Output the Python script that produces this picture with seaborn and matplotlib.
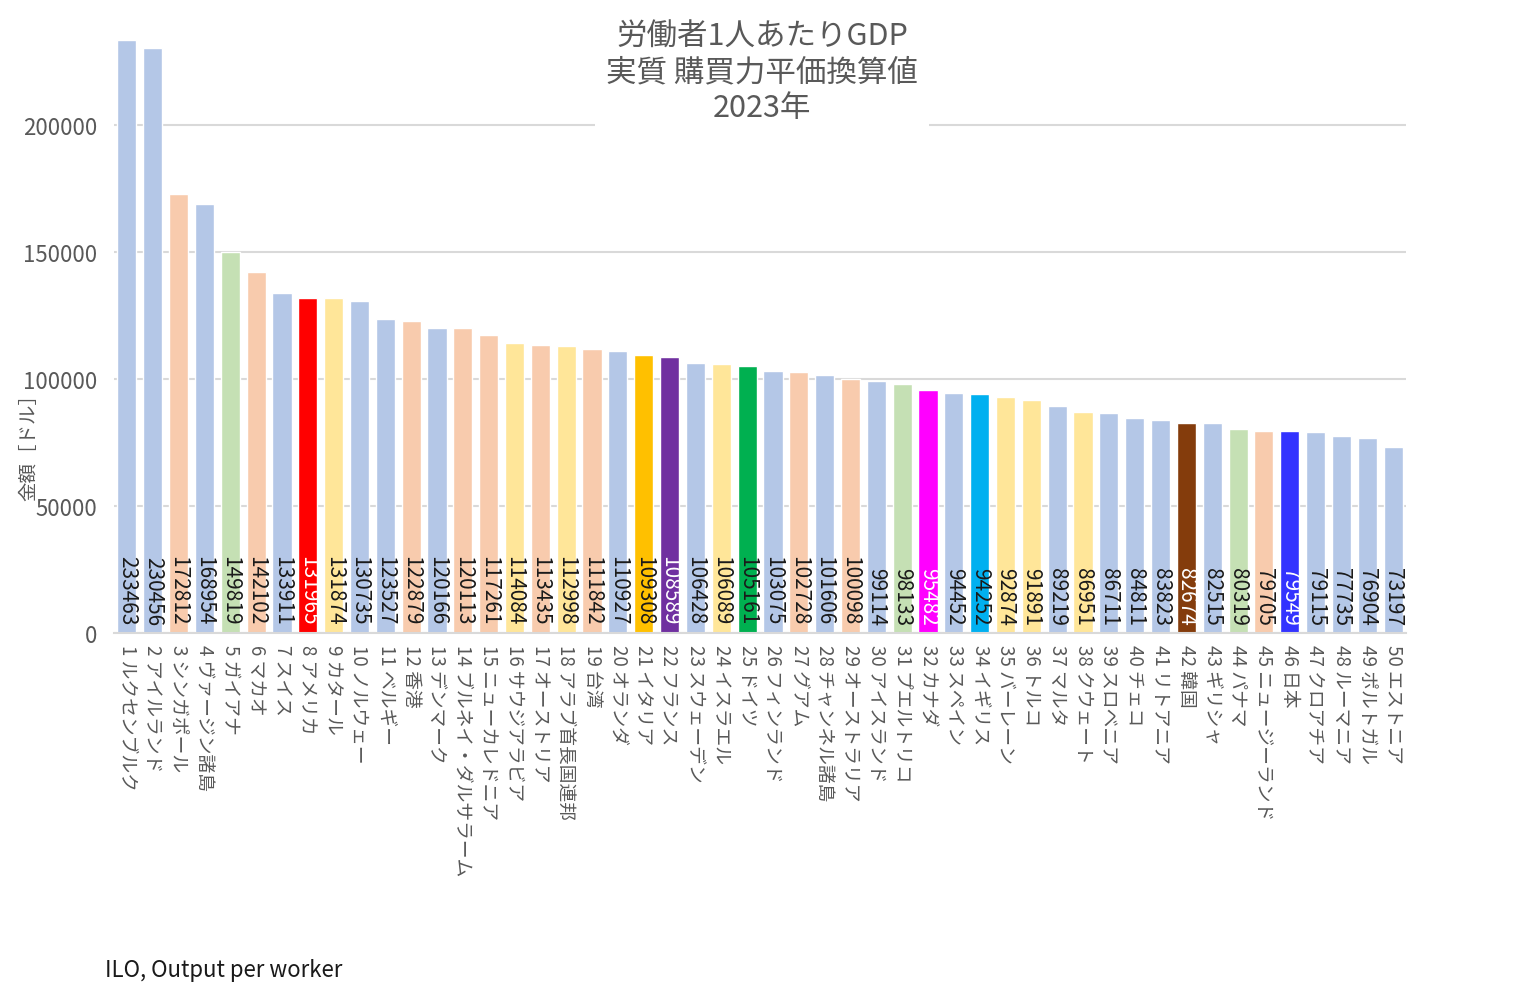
import matplotlib
matplotlib.use("Agg")
import matplotlib.pyplot as plt
import seaborn as sns
import pandas as pd

countries = ["ルクセンブルク", "アイルランド", "シンガポール", "ヴァージン諸島", "ガイアナ",
             "マカオ", "スイス", "アメリカ", "カタール", "ノルウェー",
             "ベルギー", "香港", "デンマーク", "ブルネイ・ダルサラーム", "ニューカレドニア",
             "サウジアラビア", "オーストリア", "アラブ首長国連邦", "台湾", "オランダ",
             "イタリア", "フランス", "スウェーデン", "イスラエル", "ドイツ",
             "フィンランド", "グアム", "チャンネル諸島", "オーストラリア", "アイスランド",
             "プエルトリコ", "カナダ", "スペイン", "イギリス", "バーレーン",
             "トルコ", "マルタ", "クウェート", "スロベニア", "チェコ",
             "リトアニア", "韓国", "ギリシャ", "パナマ", "ニュージーランド",
             "日本", "クロアチア", "ルーマニア", "ポルトガル", "エストニア"]
values = [233463, 230456, 172812, 168954, 149819, 142102, 133911, 131965, 131874, 130735,
          123527, 122879, 120166, 120113, 117261, 114084, 113435, 112998, 111842, 110927,
          109308, 108589, 106428, 106089, 105161, 103075, 102728, 101606, 100098, 99114,
          98133, 95482, 94452, 94252, 92874, 91891, 89219, 86951, 86711, 84811,
          83823, 82674, 82515, 80319, 79705, 79549, 79115, 77735, 76904, 73197]
# colour group per bar
groups = ["B", "B", "P", "B", "G", "P", "B", "US", "Y", "B",
          "B", "P", "B", "P", "P", "Y", "P", "Y", "P", "B",
          "IT", "FR", "B", "Y", "DE", "B", "P", "B", "P", "B",
          "G", "CA", "B", "UK", "Y", "Y", "B", "Y", "B", "B",
          "B", "KR", "B", "G", "P", "JP", "B", "B", "B", "B"]

group_colors = {"B": "#B4C7E7", "P": "#F8CBAD", "G": "#C5E0B4", "Y": "#FFE699",
                "US": "#FF0000", "IT": "#FFC000", "FR": "#7030A0", "DE": "#00B050",
                "CA": "#FF00FF", "UK": "#00B0F0", "KR": "#843C0C", "JP": "#3333FF"}
white_text = {"US", "FR", "CA", "KR", "JP"}

labels = [f"{i + 1} {c}" for i, c in enumerate(countries)]
df = pd.DataFrame({"label": labels, "value": values, "group": groups})

sns.set_theme(style="white")
plt.rcParams["font.family"] = ["Noto Sans CJK JP", "DejaVu Sans"]

fig = plt.figure(figsize=(15.24, 9.95), dpi=100)
ax = fig.add_axes([0.0748, 0.3628, 0.8478, 0.6127])

palette = [group_colors[g] for g in groups]
sns.barplot(data=df, x="label", y="value", hue="label", palette=palette,
            legend=False, width=0.74, ax=ax, saturation=1, zorder=2)

ax.set_xlim(-0.5, len(values) - 0.5)
ax.set_ylim(0, 240000)
ax.set_yticks([0, 50000, 100000, 150000, 200000])
ax.set_yticklabels(["0", "50000", "100000", "150000", "200000"])
ax.yaxis.grid(True, color="#D9D9D9", linewidth=1.5, zorder=0)
ax.set_axisbelow(True)
for s in ["top", "right", "left"]:
    ax.spines[s].set_visible(False)
ax.spines["bottom"].set_color("#D9D9D9")
ax.spines["bottom"].set_linewidth(1.5)
ax.tick_params(axis="y", length=0, pad=12, labelsize=16, labelcolor="#595959")
ax.tick_params(axis="x", length=0, pad=8, labelsize=13.5, labelcolor="#595959")
ax.set_xticks(range(len(labels)))
ax.set_xticklabels(labels, rotation=-90, ha="center", va="top")
ax.set_xlabel("")
ax.set_ylabel("")

for i, (v, g) in enumerate(zip(values, groups)):
    ax.annotate(str(v), xy=(i, 0), xytext=(0, 6), textcoords="offset points",
                rotation=-90, ha="center", va="bottom", fontsize=15,
                color="white" if g in white_text else "#1a1a1a", zorder=3)

fig.text(0.019, 0.555, "金額［ドル］", rotation=90, ha="center", va="center",
         fontsize=14, color="#595959")

fig.text(0.5, 0.978, "労働者1人あたりGDP\n実質 購買力平価換算値\n2023年",
         ha="center", va="top", fontsize=22, color="#595959", linespacing=1.2,
         bbox=dict(facecolor="white", edgecolor="none", pad=8))

fig.text(0.069, 0.013, "ILO, Output per worker", ha="left", va="bottom",
         fontsize=16, color="#1a1a1a")

fig.savefig("out.png", dpi=100, facecolor="white")
